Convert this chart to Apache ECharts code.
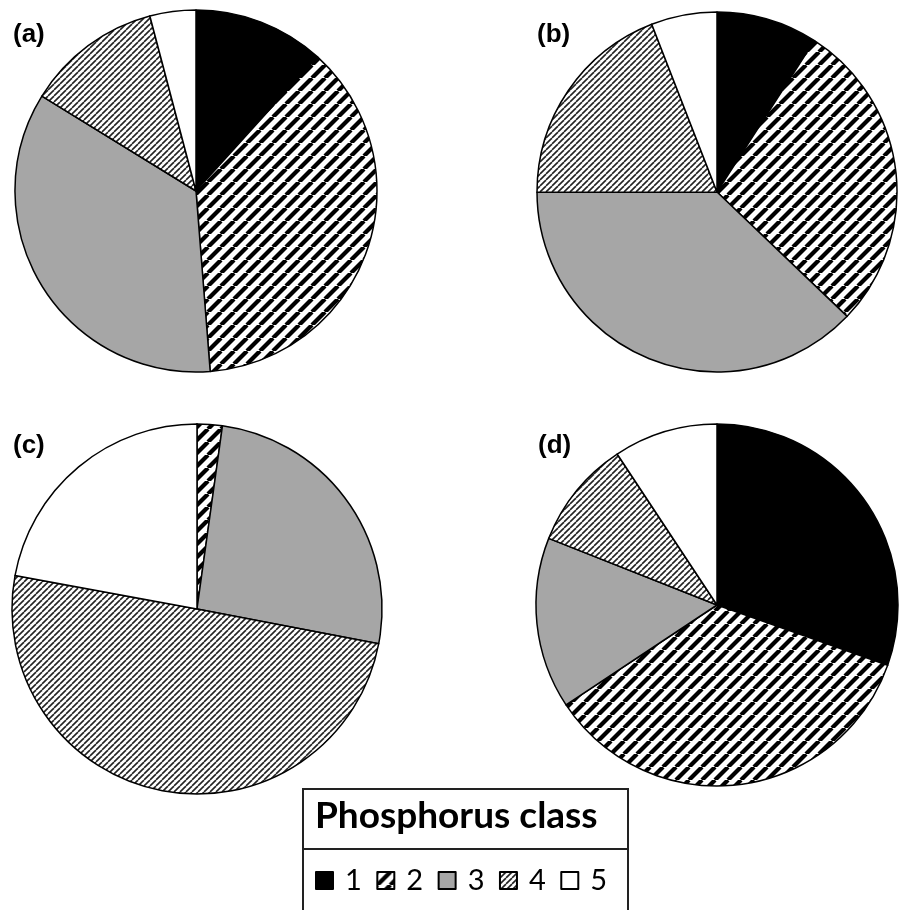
<!DOCTYPE html>
<html>
<head>
<meta charset="utf-8">
<script src="https://cdn.jsdelivr.net/npm/echarts@6/dist/echarts.min.js"></script>
<style>
  html, body { margin: 0; padding: 0; background: #fff; }
  #chart { width: 901px; height: 910px; }
</style>
</head>
<body>
<div id="chart"></div>
<script>
// phosphorus classes and the share of each class per panel (%)
var classes = ['1', '2', '3', '4', '5'];
var panels = ['(a)', '(b)', '(c)', '(d)'];
var pieA = [11.7, 37.0, 35.0, 12.1, 4.1];
var pieB = [9.1, 28.0, 37.8, 19.1, 5.9];
var pieC = [0, 2.2, 25.8, 49.9, 22.1];
var pieD = [30.4, 35.3, 15.3, 9.7, 9.3];

// hatch tile: "/" stripes
function stripes(period, lineW, color) {
    var c = document.createElement('canvas');
    c.width = c.height = period;
    var g = c.getContext('2d');
    g.fillStyle = '#fff';
    g.fillRect(0, 0, period, period);
    g.strokeStyle = color;
    g.lineWidth = lineW;
    [-period, 0, period].forEach(function (o) {
        g.beginPath();
        g.moveTo(o, period);
        g.lineTo(o + period, 0);
        g.stroke();
    });
    return c;
}

var fills = [
    '#000',
    { image: stripes(13, 4.2, '#000'), repeat: 'repeat' },
    '#a6a6a6',
    { image: stripes(6, 1.6, '#222'), repeat: 'repeat' },
    '#fff'
];

function toData(vals) {
    return vals.map(function (v, i) {
        return { name: classes[i], value: v, itemStyle: { color: fills[i] } };
    });
}

function pie(vals, center, r) {
    return {
        type: 'pie',
        center: center,
        radius: r,
        startAngle: 90,
        clockwise: true,
        label: { show: false },
        labelLine: { show: false },
        emphasis: { disabled: true },
        itemStyle: { borderColor: '#000', borderWidth: 1.5 },
        data: toData(vals)
    };
}

var panelFont = { fontFamily: 'Liberation Sans', fontWeight: 'bold', fontSize: 26, color: '#000' };
var panelPos = [[13, 22], [537, 22], [13, 433], [538, 433]];

var myChart = echarts.init(document.getElementById('chart'));
myChart.setOption({
    animation: false,
    backgroundColor: '#fff',
    title: panelPos.map(function (p, i) {
        return { text: panels[i], left: p[0], top: p[1], padding: 0, textStyle: panelFont };
    }).concat([{
        text: 'Phosphorus class', left: 315, top: 798, padding: 0,
        textStyle: { fontFamily: 'Lato', fontWeight: 'bold', fontSize: 37, color: '#000' }
    }]),
    graphic: [
        { type: 'rect', shape: { x: 303, y: 789, width: 325, height: 140 },
          style: { fill: '#fff', stroke: '#222', lineWidth: 2 } },
        { type: 'line', shape: { x1: 303, y1: 849, x2: 628, y2: 849 },
          style: { stroke: '#222', lineWidth: 2 } }
    ],
    legend: {
        data: classes,
        orient: 'horizontal',
        left: 315,
        top: 866,
        padding: 0,
        icon: 'rect',
        itemWidth: 17,
        itemHeight: 17,
        itemGap: 14.5,
        selectedMode: false,
        textStyle: { fontFamily: 'Lato', fontSize: 29, color: '#000', padding: [0, 0, 0, 7] }
    },
    series: [
        pie(pieA, [196, 191], 181),
        pie(pieB, [717, 192], 180),
        pie(pieC, [197, 609], 185),
        pie(pieD, [717, 605], 181)
    ]
});
</script>
</body>
</html>
